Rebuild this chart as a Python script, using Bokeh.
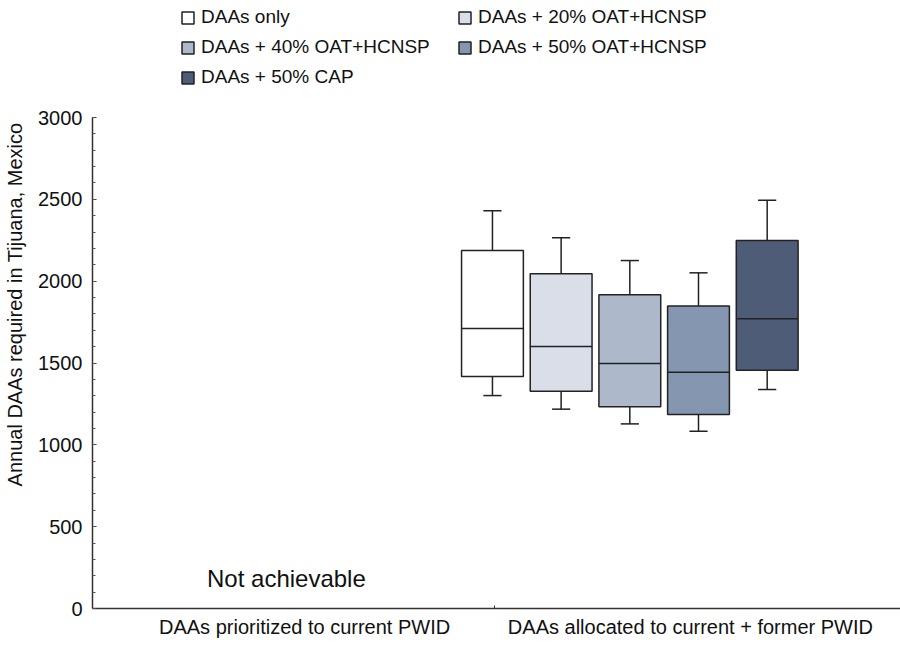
from bokeh.plotting import figure
from bokeh.models import (ColumnDataSource, Legend, LegendItem, FixedTicker,
                          Range1d)
from bokeh.core.properties import value
from bokeh.embed import file_html
from bokeh.resources import INLINE

# ---- data ----
scenarios = ["DAAs only", "DAAs + 20% OAT+HCNSP", "DAAs + 40% OAT+HCNSP",
             "DAAs + 50% OAT+HCNSP", "DAAs + 50% CAP"]
whisker_hi = [2430, 2265, 2126, 2051, 2495]
q3 = [2187, 2045, 1917, 1849, 2248]
median = [1711, 1601, 1497, 1444, 1770]
q1 = [1417, 1328, 1232, 1185, 1456]
whisker_lo = [1301, 1218, 1128, 1083, 1338]
colors = ["#ffffff", "#d9dee8", "#adb8cb", "#8597b0", "#4e5c78"]
groups = ["DAAs prioritized to current PWID", "DAAs allocated to current + former PWID"]
y_ticks = [0, 500, 1000, 1500, 2000, 2500, 3000]
note_text = "Not achievable"

FONT = "Liberation Sans"
EDGE = "#222222"

# layout of boxes within the second group
start, step, bw, cw = 0.99, 0.170, 0.153, 0.045
xs = [start + i * step for i in range(len(scenarios))]

src = ColumnDataSource(dict(
    x=xs, left=[x - bw / 2 for x in xs], right=[x + bw / 2 for x in xs],
    cl=[x - cw / 2 for x in xs], cr=[x + cw / 2 for x in xs],
    q1=q1, q3=q3, med=median, lo=whisker_lo, hi=whisker_hi,
    color=colors, name=scenarios))

# frame reaches the top of the canvas so the legend sits inside it;
# the y axis line is bounded to 0..3000
p = figure(width=900, height=645, output_backend="svg", toolbar_location=None,
           x_range=Range1d(0, 2), y_range=Range1d(0, 3715),
           min_border_left=92, min_border_right=0, min_border_top=0,
           min_border_bottom=37)
p.outline_line_color = None
p.xgrid.visible = False
p.ygrid.visible = False
p.background_fill_color = "white"

# whiskers
p.segment(x0="x", x1="x", y0="q3", y1="hi", source=src, line_color=EDGE, line_width=1.5)
p.segment(x0="x", x1="x", y0="lo", y1="q1", source=src, line_color=EDGE, line_width=1.5)
p.segment(x0="cl", x1="cr", y0="hi", y1="hi", source=src, line_color=EDGE, line_width=1.5)
p.segment(x0="cl", x1="cr", y0="lo", y1="lo", source=src, line_color=EDGE, line_width=1.5)
boxes = p.quad(left="left", right="right", bottom="q1", top="q3", source=src,
               fill_color="color", line_color=EDGE, line_width=1.5)
p.segment(x0="left", x1="right", y0="med", y1="med", source=src, line_color=EDGE, line_width=1.5)

# "Not achievable" note in the first group
p.text(x=[0.48], y=[183], text=[note_text], text_font=value(FONT),
       text_font_size="24px", text_align="center", text_baseline="middle",
       text_color="#111111")

# axes
p.yaxis.bounds = (0, 3000)
p.yaxis.ticker = FixedTicker(ticks=y_ticks, minor_ticks=list(range(0, 3001, 100)))
p.yaxis.axis_label = "Annual DAAs required in Tijuana, Mexico"
p.yaxis.axis_label_text_font = FONT
p.yaxis.axis_label_text_font_style = "normal"
p.yaxis.axis_label_text_font_size = "20px"
p.yaxis.axis_label_text_color = "#111111"
p.yaxis.axis_label_standoff = 9
p.yaxis.major_label_text_font = FONT
p.yaxis.major_label_text_font_size = "20px"
p.yaxis.major_label_text_color = "#111111"
p.yaxis.major_label_standoff = 10
p.yaxis.major_tick_in = 4
p.yaxis.major_tick_out = 0
p.yaxis.minor_tick_in = 3
p.yaxis.minor_tick_out = 0
p.yaxis.axis_line_color = "#333333"
p.yaxis.axis_line_width = 1.5
p.yaxis.major_tick_line_color = "#333333"
p.yaxis.minor_tick_line_color = "#555555"

p.xaxis.ticker = FixedTicker(ticks=[0.525, 1.48], minor_ticks=[0.995])
p.xaxis.major_label_overrides = {0.525: groups[0], 1.48: groups[1]}
p.xaxis.major_label_text_font = FONT
p.xaxis.major_label_text_font_size = "20px"
p.xaxis.major_label_text_color = "#111111"
p.xaxis.major_label_standoff = 7
p.xaxis.major_tick_in = 0
p.xaxis.major_tick_out = 0
p.xaxis.minor_tick_in = 3
p.xaxis.minor_tick_out = 0
p.xaxis.axis_line_color = "#333333"
p.xaxis.axis_line_width = 1.5
p.xaxis.minor_tick_line_color = "#333333"

# legend
items = [LegendItem(label=n, renderers=[boxes], index=i) for i, n in enumerate(scenarios)]
legend = Legend(items=items, orientation="horizontal", ncols=2,
                location=(88, 520), padding=0, margin=0, spacing=8,
                glyph_width=15, glyph_height=15, label_standoff=6,
                label_width=248, label_height=22,
                label_text_font=FONT, label_text_font_size="19px",
                label_text_color="#111111", border_line_color=None,
                background_fill_alpha=0)
p.add_layout(legend, "center")

open("out.html", "w").write(file_html(p, INLINE))
